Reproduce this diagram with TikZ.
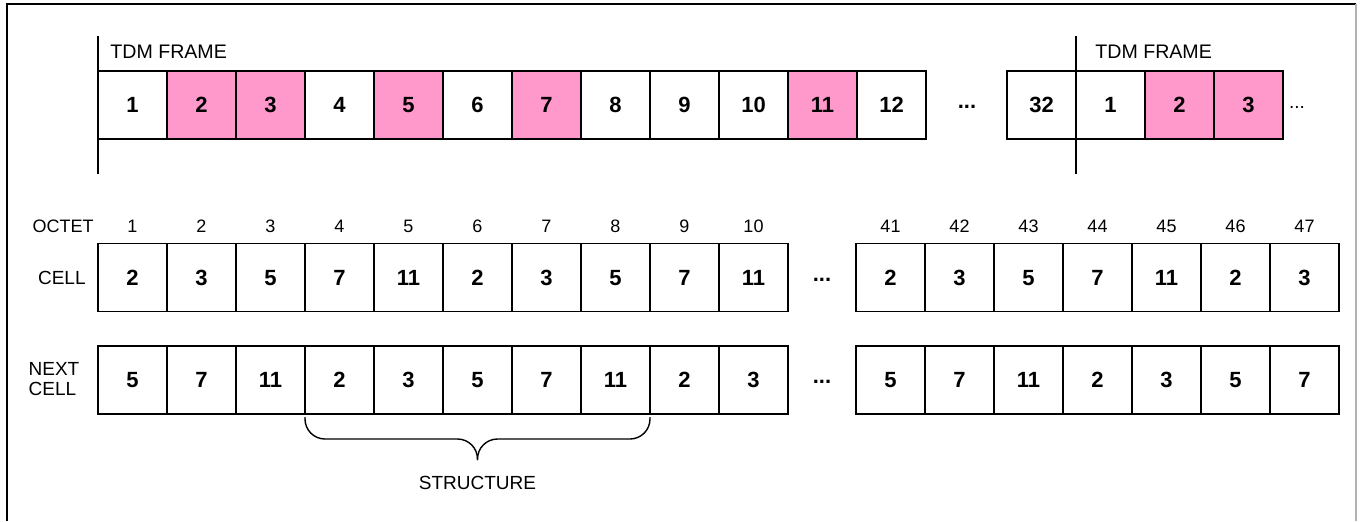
\documentclass[tikz,border=0pt]{standalone}
\usepackage{fontspec}
\setmainfont{Liberation Sans}
\usepackage{xcolor}
\usetikzlibrary{positioning,calc}

\definecolor{slotpink}{RGB}{255,153,204}

\tikzset{
  slot/.style={draw, line width=0.8pt, minimum width=34.5pt, minimum height=34pt,
    inner sep=0pt, outer sep=0pt, text height=7.9pt, text depth=0pt,
    font=\fontsize{11}{12}\selectfont\bfseries},
  lbl/.style={inner sep=0pt, font=\fontsize{9.5}{10}\selectfont},
  octet/.style={inner sep=0pt, text height=6.4pt, text depth=0pt, font=\fontsize{9}{10}\selectfont},
  gap/.style={inner sep=0pt, font=\fontsize{11}{12}\selectfont\bfseries},
  marker/.style={line width=0.7pt},
  brace/.style={line width=0.7pt, rounded corners=10pt}
}

\begin{document}
\begin{tikzpicture}[x=0.5pt, y=0.5pt]
\useasboundingbox (0,0) rectangle (1362,-521);
% outer frame
\draw[line width=1.25pt] (7,-521) -- (7,-4) -- (1356,-4);
\draw[gray!60, line width=0.8pt] (1356,-4) -- (1356,-521);

% TDM frames
\foreach \v/\f [count=\i] in {1/white,2/slotpink,3/slotpink,4/white,5/slotpink,6/white,
    7/slotpink,8/white,9/white,10/white,11/slotpink,12/white}
  \node[slot, fill=\f] (t\i) at ({132.5+69*(\i-1)},-105) {\v};
\node[gap] (tdots) at (967,-107) {...};
\foreach \v/\f [count=\i] in {32/white,1/white,2/slotpink,3/slotpink}
  \node[slot, fill=\f] (u\i) at ({1041.5+69*(\i-1)},-105) {\v};
\node[lbl] (utrail) at (1297,-107) {...};
\draw[marker] ($(t1.west)+(0,69)$) -- ($(t1.west)+(0,-69)$);
\draw[marker] ($(u2.west)+(0,69)$) -- ($(u2.west)+(0,-69)$);
\node[lbl, anchor=west, font=\fontsize{9.8}{10}\selectfont] (frame1) at (110,-52) {TDM FRAME};
\node[lbl, anchor=west, font=\fontsize{9.8}{10}\selectfont] (frame2) at (1095,-52) {TDM FRAME};

% cell and next cell
\foreach \v [count=\i] in {2,3,5,7,11,2,3,5,7,11}
  \node[slot] (c\i) at ({132.5+69*(\i-1)},-277.5) {\v};
\foreach \v [count=\i from 41] in {2,3,5,7,11,2,3}
  \node[slot] (c\i) at ({890.5+69*(\i-41)},-277.5) {\v};
\foreach \v [count=\i] in {5,7,11,2,3,5,7,11,2,3}
  \node[slot] (n\i) at ({132.5+69*(\i-1)},-380) {\v};
\foreach \v [count=\i from 41] in {5,7,11,2,3,5,7}
  \node[slot] (n\i) at ({890.5+69*(\i-41)},-380) {\v};
\node[gap] (cdots) at (822,-280) {...};
\node[gap] (ndots) at (822,-382) {...};
\foreach \i in {1,...,10}
  \node[octet, above=5.5pt of c\i] (o\i) {\i};
\foreach \i in {41,...,47}
  \node[octet, above=5.5pt of c\i] (o\i) {\i};

\node[octet, anchor=base east] (octetlbl) at (94,-232.5) {OCTET};
\node[lbl, anchor=east] (celllbl) at (86,-277.5) {CELL};
\node[lbl, align=left] (nextlbl) at (54,-379) {NEXT\\CELL};

% structure brace
\coordinate (bl) at ($(n4.south west)+(0,-3)$);
\coordinate (br) at ($(n8.south east)+(0,-3)$);
\coordinate (bmid) at ($(n4.south west)!0.5!(n8.south east)$);
\coordinate (btip) at ($(bmid)+(0,-46)$);
\draw[brace] (bl) |- ($(btip)+(0,21)$) -- (btip);
\draw[brace] (br) |- ($(btip)+(0,21)$) -- (btip);
\node[lbl, below=8pt of btip] (structlbl) {STRUCTURE};
\end{tikzpicture}
\end{document}
